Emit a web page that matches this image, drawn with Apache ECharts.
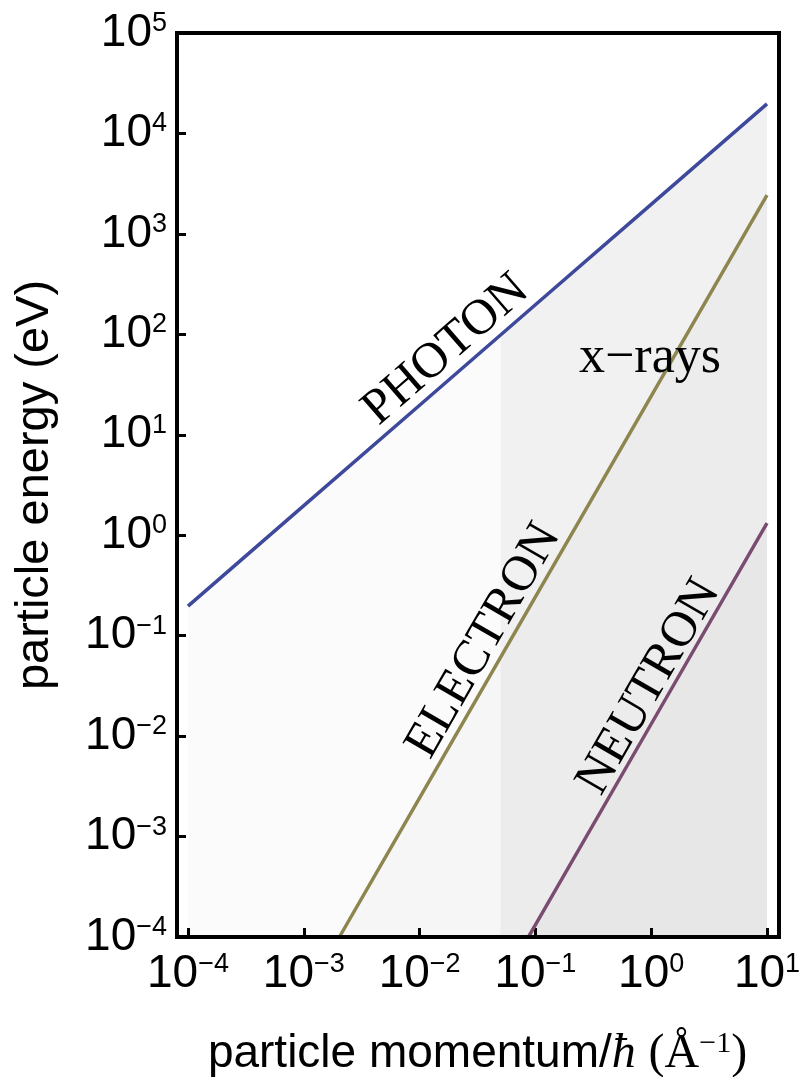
<!DOCTYPE html>
<html>
<head>
<meta charset="utf-8">
<script src="https://cdn.jsdelivr.net/npm/echarts@6/dist/echarts.min.js"></script>
<style>
html,body{margin:0;padding:0;background:#fff}
#chart{width:802px;height:1077px}
</style>
</head>
<body>
<div id="chart"></div>
<script>
// Dispersion curves: momentum k (Å^-1) against particle energy E (eV)
const photonK   = [1e-4, 1e-3, 1e-2, 1e-1, 1, 10];
const photonE   = [0.197, 1.97, 19.7, 197, 1970, 19700];
const electronK = [2.03e-3, 1e-2, 1e-1, 1, 10];
const electronE = [1e-4, 2.43e-3, 0.243, 24.3, 2430];
const neutronK  = [0.087, 0.1, 1, 10];
const neutronE  = [1e-4, 1.32e-4, 0.0132, 1.32];
// x-ray band: photon branch from 0.05 Å^-1 upward
const xrayK = [0.05, 10];
const xrayE = [98.6, 19700];

// axis ranges (decades)
const xRange = [1e-4, 10];
const yRange = [1e-4, 1e5];

const pairs = (ks, es) => ks.map((k, i) => [k, es[i]]);

const sans = '"Liberation Sans", Arial, Helvetica, sans-serif';
const serif = '"Liberation Serif", "Times New Roman", serif';

function expText(v) {
  const n = Math.round(Math.log10(v));
  return n < 0 ? '\u2212' + (-n) : String(n);
}
const tickFormatter = v => '{b|10}{e|' + expText(v) + '}';
const tickRich = {
  b: { fontFamily: sans, fontSize: 46, lineHeight: 46, color: '#000' },
  e: { fontFamily: sans, fontSize: 27, lineHeight: 22, verticalAlign: 'top', color: '#000' }
};

const tickStyle = { show: true, inside: true, length: 9, lineStyle: { color: '#000', width: 3 } };

const chart = echarts.init(document.getElementById('chart'), null, { renderer: 'canvas' });

const option = {
  animation: false,
  backgroundColor: '#fff',
  grid: [
    { left: 188, right: 35, top: 33, bottom: 140, outerBoundsMode: 'none', containLabel: false },
    { left: 177, right: 23, top: 33, bottom: 140, outerBoundsMode: 'none', containLabel: false,
      show: true, borderColor: '#000', borderWidth: 4, backgroundColor: 'transparent', z: 10 }
  ],
  xAxis: [
    {
      gridIndex: 0, type: 'log', logBase: 10, min: xRange[0], max: xRange[1], interval: 1,
      axisLine: { show: false },
      axisTick: tickStyle,
      splitLine: { show: false },
      axisLabel: { margin: 14, formatter: tickFormatter, rich: tickRich, hideOverlap: false },
      name: '{s|particle momentum/}{h|\u0127}{s| }{t|(\u00C5}{u|\u22121}{t|)}',
      nameLocation: 'middle', nameGap: 92,
      nameTextStyle: {
        rich: {
          s: { fontFamily: sans, fontSize: 46, color: '#000', lineHeight: 50 },
          h: { fontFamily: serif, fontStyle: 'italic', fontSize: 48, color: '#000', lineHeight: 50 },
          t: { fontFamily: serif, fontSize: 48, color: '#000', lineHeight: 50 },
          u: { fontFamily: serif, fontSize: 30, color: '#000', lineHeight: 30, verticalAlign: 'top' }
        }
      }
    },
    { gridIndex: 1, type: 'value', show: false }
  ],
  yAxis: [
    {
      gridIndex: 0, type: 'log', logBase: 10, min: yRange[0], max: yRange[1], interval: 1,
      offset: 11,
      axisLine: { show: false },
      axisTick: tickStyle,
      splitLine: { show: false },
      axisLabel: { margin: 10, formatter: tickFormatter, rich: tickRich, hideOverlap: false },
      name: 'particle energy (eV)',
      nameLocation: 'middle', nameGap: 118,
      nameTextStyle: { fontFamily: sans, fontSize: 47, color: '#000' }
    },
    { gridIndex: 1, type: 'value', show: false }
  ],
  series: [
    {
      name: 'photon-area', type: 'line', data: pairs(photonK, photonE), symbol: 'none', z: 1,
      lineStyle: { width: 0, opacity: 0 }, areaStyle: { origin: 'start', color: 'rgba(0,0,0,0.025)' }
    },
    {
      name: 'x-ray band', type: 'line', data: pairs(xrayK, xrayE), symbol: 'none', z: 1,
      lineStyle: { width: 0, opacity: 0 }, areaStyle: { origin: 'start', color: 'rgba(0,0,0,0.056)' }
    },
    {
      name: 'electron-area', type: 'line', data: pairs(electronK, electronE), symbol: 'none', z: 1,
      lineStyle: { width: 0, opacity: 0 }, areaStyle: { origin: 'start', color: 'rgba(0,0,0,0.029)' }
    },
    {
      name: 'neutron-area', type: 'line', data: pairs(neutronK, neutronE), symbol: 'none', z: 1,
      lineStyle: { width: 0, opacity: 0 }, areaStyle: { origin: 'start', color: 'rgba(0,0,0,0.027)' }
    },
    {
      name: 'PHOTON', type: 'line', data: pairs(photonK, photonE), symbol: 'none', z: 5,
      lineStyle: { width: 3.5, color: 'rgb(62,73,155)' }
    },
    {
      name: 'ELECTRON', type: 'line', data: pairs(electronK, electronE), symbol: 'none', z: 5,
      lineStyle: { width: 3.5, color: 'rgb(141,134,78)' }
    },
    {
      name: 'NEUTRON', type: 'line', data: pairs(neutronK, neutronE), symbol: 'none', z: 5,
      lineStyle: { width: 3.5, color: 'rgb(122,76,112)' }
    }
  ],
  graphic: [
    { type: 'text', x: 446, y: 350, rotation: 41 * Math.PI / 180, z: 20,
      style: { text: 'PHOTON', font: '50px ' + serif, fill: '#000', textAlign: 'center', textVerticalAlign: 'middle', align: 'center', verticalAlign: 'middle' } },
    { type: 'text', x: 484, y: 641, rotation: 60 * Math.PI / 180, z: 20,
      style: { text: 'ELECTRON', font: '50px ' + serif, fill: '#000', textAlign: 'center', textVerticalAlign: 'middle', align: 'center', verticalAlign: 'middle' } },
    { type: 'text', x: 649, y: 687, rotation: 60 * Math.PI / 180, z: 20,
      style: { text: 'NEUTRON', font: '50px ' + serif, fill: '#000', textAlign: 'center', textVerticalAlign: 'middle', align: 'center', verticalAlign: 'middle' } },
    { type: 'text', x: 650, y: 332, z: 20,
      style: { text: 'x\u2212rays', font: '52px ' + serif, fill: '#000', textAlign: 'center', textVerticalAlign: 'alphabetic', align: 'center', verticalAlign: 'alphabetic' } }
  ]
};

chart.setOption(option);
</script>
</body>
</html>
